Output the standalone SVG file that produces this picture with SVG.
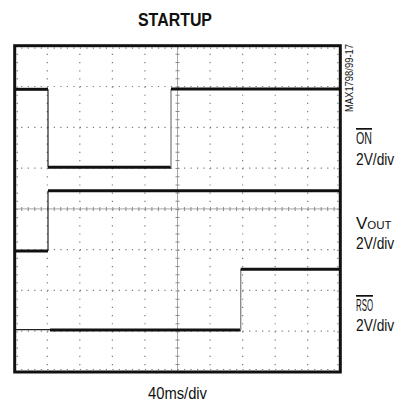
<svg xmlns="http://www.w3.org/2000/svg" width="398" height="402" viewBox="0 0 398 402">
<style>
.txt{font-family:"Liberation Sans",Arial,sans-serif;fill:#111}
.hdot{stroke:#7a7a7a;stroke-width:1.2;stroke-dasharray:1.2 5.31;fill:none}
.vdot{stroke:#7a7a7a;stroke-width:1.2;stroke-dasharray:1.2 6.96;fill:none}
.htick{stroke:#8a8a8a;stroke-width:4;stroke-dasharray:1 5.51;fill:none}
.vtick{stroke:#8a8a8a;stroke-width:4;stroke-dasharray:1 7.16;fill:none}
.axis{stroke:#a8a8a8;stroke-width:1;fill:none}
.trace{stroke:#111;stroke-width:3;fill:none;stroke-linecap:butt}
.edge{stroke:#222;stroke-width:1.2;fill:none}
.gedge{stroke:#8c8c8c;stroke-width:1.4;fill:none}
</style>
<rect width="398" height="402" fill="#fff"/>
<text id="title" class="txt" x="138" y="26" font-size="18.5" font-weight="bold" textLength="74" lengthAdjust="spacingAndGlyphs">STARTUP</text>
<g id="grid">
<line class="hdot" x1="14.7" y1="86.5" x2="340.3" y2="86.5"/>
<line class="hdot" x1="14.7" y1="127.3" x2="340.3" y2="127.3"/>
<line class="hdot" x1="14.7" y1="168.1" x2="340.3" y2="168.1"/>
<line class="hdot" x1="14.7" y1="249.6" x2="340.3" y2="249.6"/>
<line class="hdot" x1="14.7" y1="290.4" x2="340.3" y2="290.4"/>
<line class="hdot" x1="14.7" y1="331.2" x2="340.3" y2="331.2"/>
<line class="vdot" x1="47.3" y1="45.7" x2="47.3" y2="372"/>
<line class="vdot" x1="79.8" y1="45.7" x2="79.8" y2="372"/>
<line class="vdot" x1="112.4" y1="45.7" x2="112.4" y2="372"/>
<line class="vdot" x1="144.9" y1="45.7" x2="144.9" y2="372"/>
<line class="vdot" x1="210.1" y1="45.7" x2="210.1" y2="372"/>
<line class="vdot" x1="242.6" y1="45.7" x2="242.6" y2="372"/>
<line class="vdot" x1="275.2" y1="45.7" x2="275.2" y2="372"/>
<line class="vdot" x1="307.7" y1="45.7" x2="307.7" y2="372"/>
<line class="axis" x1="14.7" y1="208.9" x2="340.3" y2="208.9"/>
<line class="htick" x1="14.7" y1="208.9" x2="340.3" y2="208.9"/>
<line class="axis" x1="177.5" y1="45.7" x2="177.5" y2="372"/>
<line class="vtick" x1="177.5" y1="45.7" x2="177.5" y2="372"/>
<line class="hdot" x1="14.7" y1="48.2" x2="340.3" y2="48.2" stroke-width="2"/>
<line class="hdot" x1="14.7" y1="369.5" x2="340.3" y2="369.5" stroke-width="2"/>
<line class="vdot" x1="17.2" y1="45.7" x2="17.2" y2="372" stroke-width="2"/>
<line class="vdot" x1="337.8" y1="45.7" x2="337.8" y2="372" stroke-width="2"/>
</g>
<rect id="frame" x="14.7" y="45.7" width="325.6" height="326.3" fill="none" stroke="#111" stroke-width="3"/>
<g id="trace-on">
<line class="trace" x1="16" y1="89.3" x2="48" y2="89.3"/>
<line class="edge" x1="48" y1="89.3" x2="48" y2="167.3"/>
<line class="trace" x1="48" y1="167.3" x2="171" y2="167.3"/>
<line class="gedge" x1="171" y1="167.3" x2="171" y2="89"/>
<line class="trace" x1="171" y1="89" x2="339" y2="89"/>
</g>
<g id="trace-vout">
<line class="trace" x1="16" y1="251" x2="48" y2="251" stroke-width="3.4"/>
<line class="edge" x1="48" y1="251" x2="48" y2="190.7"/>
<line class="trace" x1="48" y1="190.7" x2="339" y2="190.7"/>
</g>
<g id="trace-rso">
<line class="edge" x1="16" y1="329.6" x2="50" y2="329.6" stroke="#555"/>
<line class="trace" x1="50" y1="330" x2="240.7" y2="330" stroke-width="2.6"/>
<line class="gedge" x1="240.7" y1="330" x2="240.7" y2="269.3"/>
<line class="trace" x1="240.7" y1="269.3" x2="339" y2="269.3"/>
</g>
<text id="figno" class="txt" font-size="10.5" transform="translate(353 112) rotate(-90)" textLength="68" lengthAdjust="spacingAndGlyphs">MAX1798/99-17</text>
<g id="label-on">
<text class="txt" x="356" y="144" font-size="17" textLength="16" lengthAdjust="spacingAndGlyphs" text-decoration="overline">ON</text>
<text class="txt" font-size="17" transform="translate(356 165) scale(0.81 1)">2V/div</text>
</g>
<g id="label-vout">
<text class="txt" x="356" y="229" font-size="17">V<tspan font-size="11.5">OUT</tspan></text>
<text class="txt" font-size="17" transform="translate(356 249) scale(0.81 1)">2V/div</text>
</g>
<g id="label-rso">
<text class="txt" x="356" y="311" font-size="17" textLength="17" lengthAdjust="spacingAndGlyphs" text-decoration="overline">RSO</text>
<text class="txt" font-size="17" transform="translate(356 331) scale(0.81 1)">2V/div</text>
</g>
<text id="timebase" class="txt" x="148" y="399" font-size="16" textLength="59" lengthAdjust="spacingAndGlyphs">40ms/div</text>
</svg>
